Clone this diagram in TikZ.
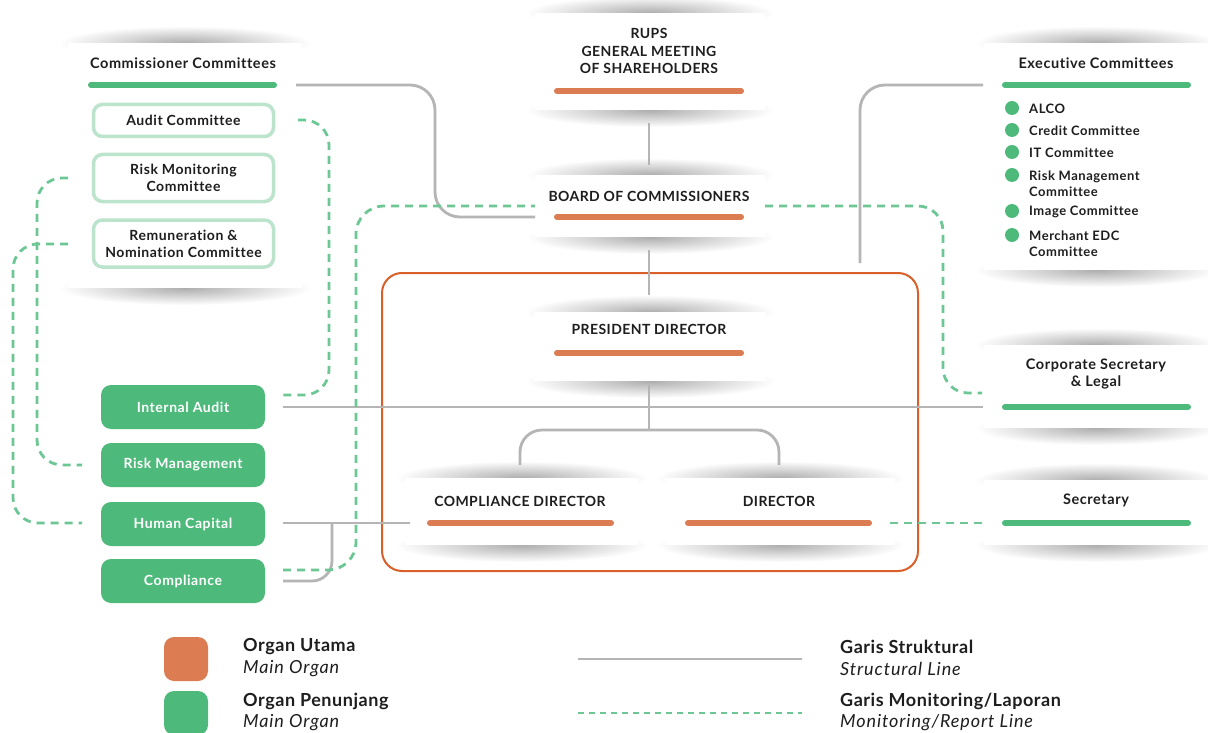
\documentclass[tikz,border=0pt]{standalone}
\usepackage{fontspec}
\setmainfont{Lato}[Ligatures=NoCommon]
\usetikzlibrary{calc}
\definecolor{orgbar}{HTML}{DB7C52}
\definecolor{orgframe}{HTML}{D9602A}
\definecolor{grn}{HTML}{4DBA7B}
\definecolor{lgrn}{HTML}{BCE3CB}
\definecolor{dgrn}{HTML}{6DC795}
\definecolor{strokegray}{HTML}{B5B5B5}
\definecolor{txt}{HTML}{1E1E1E}
\newcommand{\cardshade}[4]{%
  \shade[blend mode=multiply, inner color=black!32, outer color=white] ({(#1+#2)/2},#3) ellipse ({(#2-#1)*0.54} and 17);
  \shade[blend mode=multiply, inner color=black!32, outer color=white] ({(#1+#2)/2},#4) ellipse ({(#2-#1)*0.54} and 17);}
\newcommand{\cardwhite}[4]{\fill[white] (#1,#3) rectangle (#2,#4);}
\begin{document}
\begin{tikzpicture}[x=1pt,y=-1pt,
  lbl/.style={font=\bfseries\fontsize{14}{17.5}\selectfont\addfontfeatures{LetterSpace=3}, text=txt, align=center, inner sep=0pt},
  mlbl/.style={font=\bfseries\fontsize{14.5}{17.5}\selectfont\addfontfeatures{LetterSpace=4}, text=txt, align=center, inner sep=0pt},
  item/.style={font=\bfseries\fontsize{13}{16}\selectfont\addfontfeatures{LetterSpace=4}, text=txt, align=left, anchor=west, inner sep=0pt},
  obar/.style={draw=orgbar, line width=6pt, line cap=round},
  gbar/.style={draw=grn, line width=6pt, line cap=round},
  gbox/.style={fill=grn, rounded corners=10pt, minimum width=164pt, minimum height=44pt, text=white, font=\bfseries\fontsize{14}{16}\selectfont\addfontfeatures{LetterSpace=4}, inner sep=0pt},
  cbox/.style={draw=lgrn, line width=3.5pt, rounded corners=9pt, minimum width=180pt, text=txt, font=\bfseries\fontsize{14}{17}\selectfont\addfontfeatures{LetterSpace=4}, align=center, inner sep=0pt, fill=white},
  structline/.style={draw=strokegray, line width=2.8pt},
  monline/.style={draw=dgrn, line width=2.8pt, dash pattern=on 8pt off 6pt},
  bullet/.style={circle, fill=grn, minimum size=14pt, inner sep=0pt},
  legb/.style={font=\bfseries\fontsize{18}{20}\selectfont\addfontfeatures{LetterSpace=3}, text=txt, anchor=west, inner sep=0pt},
  legi/.style={font=\itshape\fontsize{18}{20}\selectfont\addfontfeatures{LetterSpace=5}, text=txt, anchor=west, inner sep=0pt},
]
\useasboundingbox (0,0) rectangle (1208,733);
\fill[white] (0,0) rectangle (1208,733);
% card shadows
\cardshade{68}{302}{43}{288}
\cardshade{535}{765}{13}{110}
\cardshade{535}{765}{175}{237}
\cardshade{534}{766}{312}{381}
\cardshade{405}{638}{478}{545}
\cardshade{665}{895}{478}{545}
\cardshade{984}{1210}{43}{270}
\cardshade{984}{1210}{345}{428}
\cardshade{984}{1210}{480}{545}
\cardwhite{68}{302}{43}{288}
\cardwhite{535}{765}{13}{110}
\cardwhite{535}{765}{175}{237}
\cardwhite{534}{766}{312}{381}
\cardwhite{405}{638}{478}{545}
\cardwhite{665}{895}{478}{545}
\cardwhite{984}{1210}{43}{270}
\cardwhite{984}{1210}{345}{428}
\cardwhite{984}{1210}{480}{545}

% directors frame
\draw[orgframe, line width=2pt, rounded corners=20pt] (382,273) rectangle (918,571);

% main organ labels
\node[lbl] (rups) at (649,51) {RUPS\\GENERAL MEETING\\OF SHAREHOLDERS};
\node[lbl] (boc) at (649,196) {BOARD OF COMMISSIONERS};
\node[lbl] (pres) at (649,329) {PRESIDENT DIRECTOR};
\node[lbl] (cd) at (520,501) {COMPLIANCE DIRECTOR};
\node[lbl] (dir) at (779,501) {DIRECTOR};
\draw[obar] (557,91) -- (741,91);
\draw[obar] (557,217) -- (741,217);
\draw[obar] (557,353) -- (741,353);
\draw[obar] (430,523) -- (611,523);
\draw[obar] (688,523) -- (869,523);

% commissioner committees
\node[mlbl] (cc) at (183,63.5) {Commissioner Committees};
\draw[gbar] (91,85) -- (274,85);
\node[cbox, minimum height=32pt] (ac) at (183.5,120.5) {Audit Committee};
\node[cbox, minimum height=47pt] (rmc) at (183.5,178) {Risk Monitoring\\Committee};
\node[cbox, minimum height=47pt] (rnc) at (183.5,243.5) {Remuneration \&\\Nomination Committee};

% executive committees
\node[mlbl] (ec) at (1096,63.5) {Executive Committees};
\draw[gbar] (1005,85) -- (1188,85);
\node[bullet] (b1) at (1012,108) {};
\node[bullet] (b2) at (1012,130) {};
\node[bullet] (b3) at (1012,152) {};
\node[bullet] (b4) at (1012,175) {};
\node[bullet] (b5) at (1012,211) {};
\node[bullet] (b6) at (1012,235) {};
\node[item] (i1) at (1029,108.5) {ALCO};
\node[item] (i2) at (1029,130.5) {Credit Committee};
\node[item] (i3) at (1029,152.5) {IT Committee};
\node[item] (i4) at (1029,183.5) {Risk Management\\Committee};
\node[item] (i5) at (1029,211.5) {Image Committee};
\node[item] (i6) at (1029,243.5) {Merchant EDC\\Committee};

% corporate secretary, secretary
\node[mlbl] (corp) at (1096,374) {Corporate Secretary\\\& Legal};
\draw[gbar] (1005,407) -- (1188,407);
\node[mlbl] (sec) at (1096,500.5) {Secretary};
\draw[gbar] (1005,523) -- (1188,523);

% supporting organs
\node[gbox] (ia) at (183,407) {Internal Audit};
\node[gbox] (rm) at (183,465) {Risk Management};
\node[gbox] (hc) at (183,524) {Human Capital};
\node[gbox] (co) at (183,581) {Compliance};

% connector end points
\coordinate (ccR) at (296,85);
\coordinate (bocL) at (535,217);
\coordinate (rupsB) at (649,123);
\coordinate (bocT) at (649,165);
\coordinate (bocB) at (649,250);
\coordinate (presT) at (649,295);
\coordinate (presB) at (649,385);
\coordinate (brJ) at (649,430);
\coordinate (cdT) at (520,465);
\coordinate (dirT) at (779,465);
\coordinate (iaR) at (283,407);
\coordinate (corpL) at (983,407);
\coordinate (ecL) at (983,85);
\coordinate (ecEnd) at (860,263);
\coordinate (hcR) at (283,523);
\coordinate (cdL) at (410,523);
\coordinate (coR) at (283,581);
\coordinate (hcJ) at (332,523);
\coordinate (acR) at (298,120);
\coordinate (iaRd) at (283,395);
\coordinate (coRd) at (283,570);
\coordinate (bocLd) at (535,206);
\coordinate (bocRd) at (765,206);
\coordinate (corpLd) at (982,393);
\coordinate (dirR) at (890,523);
\coordinate (secL) at (983,523);
\coordinate (rmcL) at (68,178);
\coordinate (rmL) at (82,465);
\coordinate (rncL) at (68,244);
\coordinate (hcL) at (82,523);

% structural lines
\draw[structline, rounded corners=25pt] (ccR) -- (435,85) -- (435,217) -- (bocL);
\draw[structline] (rupsB) -- (bocT);
\draw[structline] (bocB) -- (presT);
\draw[structline] (presB) -- (brJ);
\draw[structline, rounded corners=22pt] (cdT) |- (brJ) -| (dirT);
\draw[structline] (iaR) -- (corpL);
\draw[structline, rounded corners=25pt] (ecL) -- (860,85) -- (ecEnd);
\draw[structline] (hcR) -- (cdL);
\draw[structline, rounded corners=20pt] (coR) -- (332,581) -- (hcJ);

% monitoring lines
\draw[monline, rounded corners=25pt] (acR) -- (329,120) -- (329,395) -- (iaRd);
\draw[monline, rounded corners=28pt] (coRd) -- (356,570) -- (356,206) -- (bocLd);
\draw[monline, rounded corners=25pt] (bocRd) -- (943,206) -- (943,393) -- (corpLd);
\draw[monline] (dirR) -- (secL);
\draw[monline, rounded corners=25pt] (rmcL) -- (37,178) -- (37,465) -- (rmL);
\draw[monline, rounded corners=25pt] (rncL) -- (13,244) -- (13,523) -- (hcL);

% legend
\node[fill=orgbar, rounded corners=10pt, minimum width=44pt, minimum height=44pt, inner sep=0pt] (lgo) at (186,659) {};
\node[fill=grn, rounded corners=10pt, minimum width=44pt, minimum height=44pt, inner sep=0pt] (lgg) at (186,713) {};
\node[legb] (t1) at (243,647) {Organ Utama};
\node[legi] (t2) at (243,669) {Main Organ};
\node[legb] (t3) at (243,701) {Organ Penunjang};
\node[legi] (t4) at (243,723) {Main Organ};
\coordinate (ls1) at (578,659);
\coordinate (ls2) at (802,659);
\coordinate (lm1) at (578,713);
\coordinate (lm2) at (802,713);
\draw[structline] (ls1) -- (ls2);
\draw[draw=dgrn, line width=2.8pt, dash pattern=on 6pt off 5pt] (lm1) -- (lm2);
\node[legb] (t5) at (840,647) {Garis Struktural};
\node[legi] (t6) at (840,669) {Structural Line};
\node[legb] (t7) at (840,701) {Garis Monitoring/Laporan};
\node[legi] (t8) at (840,723) {Monitoring/Report Line};
\end{tikzpicture}
\end{document}
